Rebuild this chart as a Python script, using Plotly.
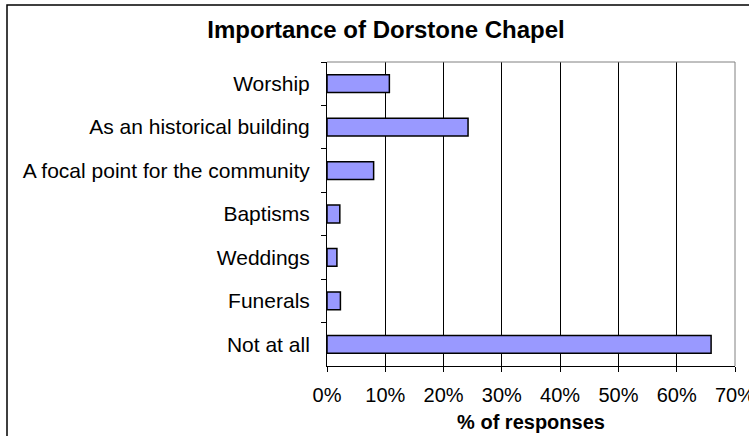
import plotly.graph_objects as go

categories = ["Worship", "As an historical building", "A focal point for the community",
              "Baptisms", "Weddings", "Funerals", "Not at all"]
values = [10.7, 24.2, 8.0, 2.2, 1.7, 2.3, 65.9]
x_ticks = [0, 10, 20, 30, 40, 50, 60, 70]
x_tick_labels = ["0%", "10%", "20%", "30%", "40%", "50%", "60%", "70%"]

L, T, PW, PH = 327, 62, 408, 304
W, H = 749, 436

fig = go.Figure()
fig.add_trace(go.Bar(
    x=values, y=categories, orientation="h",
    marker=dict(color="#9999FF", line=dict(color="black", width=1.5)),
    hoverinfo="x+y",
))

font_family = "Liberation Sans, Arial, sans-serif"

def px_to_paper_x(px):
    return (px - L) / PW

def px_to_paper_y(py):
    return (T + PH - py) / PH

fig.update_layout(
    width=W, height=H,
    margin=dict(l=L, r=W - L - PW, t=T, b=H - T - PH, autoexpand=False),
    paper_bgcolor="white", plot_bgcolor="white",
    bargap=0.59,
    showlegend=False,
    font=dict(family=font_family, size=21, color="black"),
    title=dict(text="<b>Importance of Dorstone Chapel</b>", x=386 / W, xanchor="center",
               y=1 - 30 / H, yanchor="middle", automargin=False,
               font=dict(family=font_family, size=24, color="black")),
    xaxis=dict(
        range=[0, 70], tickmode="array", tickvals=x_ticks, ticktext=x_tick_labels,
        showgrid=True, gridcolor="black", gridwidth=1,
        showline=True, linecolor="black", linewidth=1,
        ticks="outside", ticklen=5, tickcolor="black",
        zeroline=False, automargin=False, ticklabeloverflow="allow",
        ticklabelstandoff=6,
        tickfont=dict(size=20),
        title=dict(text="<b>% of responses</b>", font=dict(size=20), standoff=9),
    ),
    yaxis=dict(
        categoryorder="array", categoryarray=categories, autorange="reversed",
        showline=True, linecolor="black", linewidth=1,
        ticks="outside", ticklen=5, tickcolor="black", tickson="boundaries",
        showgrid=False, automargin=False, ticklabelstandoff=12,
        tickfont=dict(size=21),
    ),
    shapes=[
        dict(type="line", xref="paper", yref="paper", x0=0, x1=1, y0=1, y1=1,
             line=dict(color="#808080", width=1)),
        dict(type="line", xref="paper", yref="paper", x0=1, x1=1, y0=0, y1=1,
             line=dict(color="#808080", width=1)),
        dict(type="rect", xref="paper", yref="paper",
             x0=px_to_paper_x(7), x1=px_to_paper_x(770),
             y0=px_to_paper_y(460), y1=px_to_paper_y(5),
             line=dict(color="black", width=1.5)),
    ],
)

fig.write_html("out.html",
               config={"displayModeBar": False},
               post_script="document.body.style.margin='0';document.body.style.padding='0';")
